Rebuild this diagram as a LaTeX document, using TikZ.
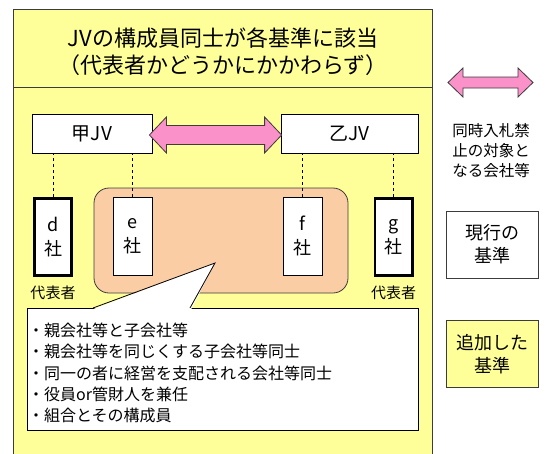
\documentclass[tikz,border=0pt]{standalone}
\usepackage{fontspec}
\setmainfont{Noto Sans CJK JP}
\usetikzlibrary{positioning,calc}
\definecolor{panelyellow}{RGB}{255,255,153}
\definecolor{bandpink}{RGB}{250,145,200}
\definecolor{groupbeige}{RGB}{250,205,165}
\definecolor{edgegrey}{RGB}{60,60,60}
\tikzset
{
    jvbox/.style  = {rectangle, draw=black, fill=white, line width=0.8pt, minimum height=39pt, font=\fontsize{19}{20}\selectfont},
    firm/.style   = {rectangle, draw=black, fill=white, line width=0.8pt, minimum width=39pt, minimum height=78pt, align=center, font=\fontsize{18}{24}\selectfont},
    leader/.style = {firm, line width=2.6pt, minimum width=37.4pt, minimum height=77.4pt},
    tag/.style    = {font=\fontsize{15}{18}\selectfont, inner sep=0pt},
    legend/.style = {rectangle, draw=edgegrey, line width=0.8pt, minimum width=92pt, minimum height=67pt, align=center, font=\fontsize{18}{23}\selectfont},
    link/.style   = {dashed, line width=0.8pt},
    bigarrow/.style = {draw=edgegrey, fill=bandpink, line width=0.8pt, line join=miter}
}

\begin{document}
\begin{tikzpicture}[x=1pt, y=-1pt]
	\useasboundingbox (0,0) rectangle (546,453);

	\node (panel) [draw=edgegrey, fill=panelyellow, line width=0.8pt, minimum width=419pt, minimum height=460pt, anchor=north west, inner sep=0pt] at (13,9) {};
	\draw [edgegrey, line width=0.8pt] (panel.north west) ++(0,78) -- ++(419,0);
	\node (title) at (223,51.5) [align=center, font=\fontsize{22}{27}\selectfont] {JVの構成員同士が各基準に該当\\（代表者かどうかにかかわらず）};

	\node (koJV) [jvbox, minimum width=120pt] at (92,134) {甲JV};
	\node (otsuJV) [jvbox, minimum width=137pt] at (349.5,134) {乙JV};

	\node (group) [fill=groupbeige, draw=edgegrey, line width=0.8pt, rounded corners=15pt, minimum width=254pt, minimum height=105pt] at (221,240.5) {};

	\node (dsha) [leader] at (53,237) {d\\社};
	\node (esha) [firm] at (132.5,236) {e\\社};
	\node (fsha) [firm] at (302.5,236) {f\\社};
	\node (gsha) [leader] at (393.5,237) {g\\社};
	\node (drep) [tag, below=8.5pt of dsha] {代表者};
	\node (grep) [tag, below=8.5pt of gsha] {代表者};

	\draw [link] (dsha.north) -- (dsha.north |- koJV.south);
	\draw [link] (esha.north) -- (esha.north |- koJV.south);
	\draw [link] (fsha.north) -- (fsha.north |- otsuJV.south);
	\draw [link] (gsha.north) -- (gsha.north |- otsuJV.south);

	% pink band between the two JVs
	\draw [bigarrow] ($(koJV.east)+(-3,1)$) -- ($(koJV.east)+(14,-17)$) -- ($(koJV.east)+(14,-8.5)$)
		-- ($(otsuJV.west)+(-16,-8.5)$) -- ($(otsuJV.west)+(-16,-17)$) -- ($(otsuJV.west)+(1,1)$)
		-- ($(otsuJV.west)+(-16,19)$) -- ($(otsuJV.west)+(-16,10.5)$) -- ($(koJV.east)+(14,10.5)$)
		-- ($(koJV.east)+(14,19)$) -- cycle;

	% callout
	\node (notes) [draw=black, fill=white, line width=0.8pt, minimum width=391pt, minimum height=122pt, anchor=north west, inner sep=0pt] at (27,308) {};
	\coordinate (tip) at (215,263);
	\fill [white] ($(notes.north west)+(65,1.5)$) -- (tip) -- ($(notes.north west)+(164,1.5)$) -- cycle;
	\draw [line width=0.8pt] ($(notes.north west)+(66,0)$) -- (tip) -- ($(notes.north west)+(163,0)$);
	\node (notetext) [anchor=north west, align=left, inner sep=0pt, font=\fontsize{16}{21.2}\selectfont] at (28,323) {・親会社等と子会社等\\・親会社等を同じくする子会社等同士\\・同一の者に経営を支配される会社等同士\\・役員or管財人を兼任\\・組合とその構成員};

	% legend
	\draw [bigarrow] (448,82.5) -- (463,68) -- (463,77) -- (518,77) -- (518,68) -- (533,82.5)
		-- (518,97) -- (518,88) -- (463,88) -- (463,97) -- cycle;
	\node (legtext) at (491,151) [align=center, font=\fontsize{15.5}{20}\selectfont] {同時入札禁\\止の対象と\\なる会社等};
	\node (nowrule) [legend, fill=white] at (492,244.5) {現行の\\基準};
	\node (newrule) [legend, fill=panelyellow] at (492,354) {追加した\\基準};
\end{tikzpicture}
\end{document}
